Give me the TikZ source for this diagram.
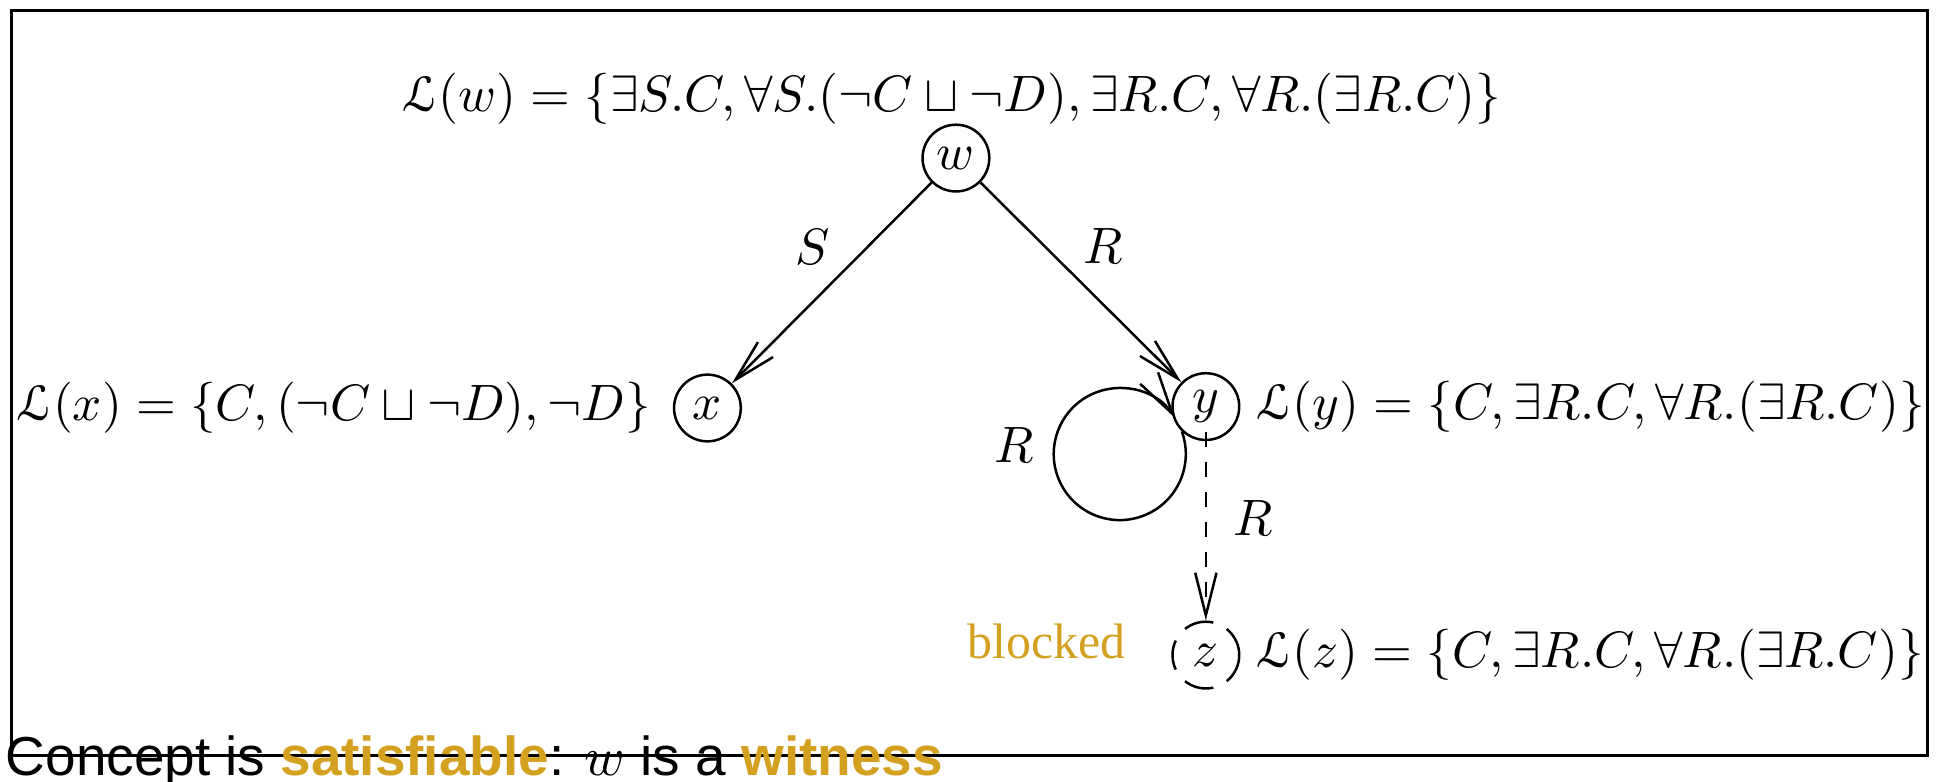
\RequirePackage{fix-cm}
\documentclass[tikz,border=0pt]{standalone}
\usepackage{amsmath}
\usepackage{amssymb}
\usepackage[mathscr]{eucal}
\usepackage{fontspec}
\newfontfamily\slidefont{Liberation Sans}
\newfontfamily\notefont{Liberation Serif}
\usepackage{tikz}
\usetikzlibrary{arrows.meta}
\definecolor{hilite}{RGB}{212,160,32}
\newcommand{\lfun}[1]{\mathscr{L}(#1)}
\newcommand{\exR}{\exists R.C}
\newcommand{\allR}{\forall R.(\exists R.C)}

\tikzset{
  indiv/.style={circle,draw,line width=0.5pt,minimum size=0.47cm,inner sep=0pt},
  role/.style={-{Straight Barb[length=3mm,width=1.5mm]},line width=0.5pt},
}

\begin{document}
\begin{tikzpicture}[font=\fontsize{10.25}{12}\selectfont]
  \useasboundingbox (-6.732,1.113) rectangle (6.923,-4.387);
  \draw[line width=0.6pt] (-6.648,1.042) rectangle (6.845,-4.204);

  \node[indiv] (w) at (0,0) {$w$};
  \node[indiv] (x) at (-1.75,-1.76) {$x$};
  \node[indiv] (y) at (1.76,-1.75) {$y$};
  \node[indiv,dash pattern=on 6pt off 3pt] (z) at (1.76,-3.5) {$z$};

  \node (lw) at (-0.03,0.415) {$\lfun{w}=\{\exists S.C,\forall S.(\neg C\sqcup\neg D),\exR,\allR\}$};
  \node[anchor=east] (lx) at (-2.023,-1.76) {$\lfun{x}=\{C,(\neg C\sqcup\neg D),\neg D\}$};
  \node[anchor=west] (ly) at (1.99,-1.75) {$\lfun{y}=\{C,\exR,\allR\}$};
  \node[anchor=west] (lz) at (1.99,-3.5) {$\lfun{z}=\{C,\exR,\allR\}$};
  \node[anchor=east,text=hilite,font=\notefont] (blk) at (1.317,-3.406) {blocked};

  \draw[role] (w) -- (x) node[pos=0.32,left=0.14cm] {$S$};
  \draw[role] (w) -- (y) node[pos=0.32,right=0.15cm] {$R$};
  \draw[role] (y.-134) arc[start angle=20,delta angle=-347,radius=0.465cm];
  \node (rloop) at (0.41,-2.02) {$R$};
  \draw[role,dashed,shorten <=-1.8pt] (y) -- (z) node[pos=0.43,right=0.07cm] {$R$};

  \node[anchor=base west,inner sep=0pt,font=\slidefont\fontsize{11}{13}\selectfont] (verdict) at (-6.697,-4.345)
    {Concept is \textbf{\color{hilite}satisfiable}: $w$ is a \textbf{\color{hilite}witness}};
\end{tikzpicture}
\end{document}
